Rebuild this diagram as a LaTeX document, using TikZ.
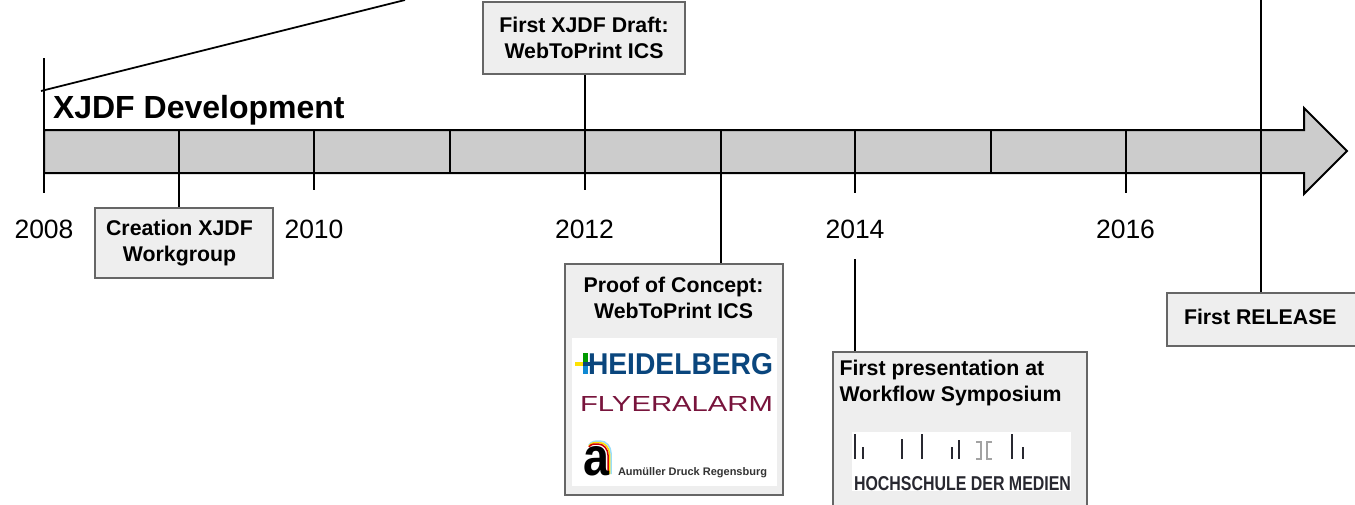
\documentclass[tikz,border=0pt]{standalone}
\usepackage{fontspec}
\usepackage{graphicx}
\setmainfont{Liberation Sans}
\definecolor{barfill}{RGB}{204, 204, 204}
\definecolor{boxfill}{RGB}{238, 238, 238}
\definecolor{boxedge}{RGB}{102, 102, 102}
\definecolor{hdblue}{RGB}{10, 70, 125}
\definecolor{flyerred}{RGB}{120, 20, 60}
\definecolor{hdmdark}{RGB}{40, 40, 48}
\usetikzlibrary{positioning, calc}

\begin{document}
\begin{tikzpicture}[
  x=1pt, y=-1pt,
  line width=2pt,
  box/.style={draw=boxedge, fill=boxfill, line width=2pt, inner sep=0pt, align=center,
    font=\fontsize{21.3}{26}\selectfont\bfseries},
  boxtext/.style={inner sep=0pt, font=\fontsize{21.3}{26}\selectfont\bfseries},
  year/.style={inner sep=0pt, font=\fontsize{26.5}{30}\selectfont},
  logobg/.style={fill=white, inner sep=0pt},
  hdmbar/.style={hdmdark, line width=2.6pt},
]
\useasboundingbox (0,0) rectangle (1355,504);
\clip (0,0) rectangle (1355,504);

% Time bar
\draw[fill=barfill, line join=miter] (44,130) -- (1304,130) -- (1304,108) -- (1347,151)
  -- (1304,194) -- (1304,173) -- (44,173) -- cycle;
\draw[line width=1.8pt] (41,91) -- (405,0);
\node[inner sep=0pt, anchor=base west, font=\fontsize{32}{36}\selectfont\bfseries] (title) at (52,118) {XJDF Development};

% Tick positions on the bar
\coordinate (t2008) at (44,58);
\coordinate (t2009) at (179,130);
\coordinate (t2010) at (314,130);
\coordinate (t2011) at (449.5,130);
\coordinate (t2012) at (584.5,173);
\coordinate (t2013) at (721,130);
\coordinate (t2014) at (855,130);
\coordinate (t2014low) at (855,259);
\coordinate (t2015) at (991,130);
\coordinate (t2016) at (1125.5,130);
\coordinate (t2017) at (1261,0);

% Years
\node[year] (y2008) at (44,229) {2008};
\node[year] (y2010) at (314,229) {2010};
\node[year] (y2012) at (584.5,229) {2012};
\node[year] (y2014) at (855,229) {2014};
\node[year] (y2016) at (1125.5,229) {2016};

% Milestones
\node[box, minimum width=178pt, minimum height=70pt] (creation) at (184,243) {};
\node[boxtext, align=center] (creationtext) at (179.5,243) {Creation XJDF\\Workgroup};
\node[box, minimum width=202pt, minimum height=72pt] (draft) at (584,38)
{First XJDF Draft:\\WebToPrint ICS};
\node[box, minimum width=218pt, minimum height=231pt] (proof) at (674,379.5) {};
\node[boxtext, align=center] (prooftext) at (673.5,298) {Proof of Concept:\\WebToPrint ICS};
\node[box, minimum width=254pt, minimum height=180pt] (talk) at (960,442) {};
\node[boxtext, align=left, anchor=north west] (talktext) at (838.5,359) {First presentation at\\Workflow Symposium};
\node[box, minimum width=220pt, minimum height=53pt] (release) at (1277,319.5) {};
\node[boxtext, anchor=west] (releasetext) at (1183,317) {First RELEASE};

% Connectors
\draw (t2008) -- (44,193);
\draw (t2009) -- (t2009 |- creation.north);
\draw (t2010) -- (314,190);
\draw (t2011) -- (449.5,173);
\draw (t2012 |- draft.south) -- (584.5,190);
\draw (t2013) -- (t2013 |- proof.north);
\draw (t2014) -- (855,193);
\draw (t2014low) -- (t2014low |- talk.north);
\draw (t2015) -- (991,173);
\draw (t2016) -- (1125.5,193);
\draw (t2017) -- (t2017 |- release.north);

% Logos in the proof box
\node[logobg, minimum width=205pt, minimum height=148pt] (prooflogos) at (674.5,412) {};
\node[inner sep=0pt, anchor=base west, text=hdblue] (heidelberg) at (587,374)
{\resizebox{185pt}{21pt}{\bfseries HEIDELBERG}};
\fill[yellow!85!orange] (575,362) rectangle (584,366);
\fill[green!60!black] (583,353) rectangle (588,363);
\fill[cyan!70!blue] (583,365) rectangle (588,374);
\fill[hdblue] (583,362) rectangle (592,366);
\node[inner sep=0pt, anchor=base west, text=flyerred] (flyeralarm) at (579,411)
{\resizebox{193pt}{15pt}{FLYERALARM}};
\draw[line width=1.5pt, cyan!40] (589,445) to[out=60, in=180] (600,441) to[out=0, in=90] (611,453) -- (611,474);
\draw[line width=1.5pt, yellow!80!orange] (589,446) to[out=60, in=180] (599,442.5) to[out=0, in=90] (609.5,454) -- (609.5,474);
\draw[line width=1.5pt, red!80!black] (589,447) to[out=60, in=180] (598,444) to[out=0, in=90] (608,455) -- (608,474);
\node[inner sep=0pt, anchor=base west] (aumark) at (582,475)
{\resizebox{26pt}{29pt}{\bfseries a}};
\node[inner sep=0pt, anchor=base west, text=black!80] (aumueller) at (617,475)
{\resizebox{149pt}{!}{\bfseries Aumüller Druck Regensburg}};

% Logo in the talk box
\node[logobg, minimum width=219pt, minimum height=59pt] (hdmlogo) at (961.5,461.5) {};
\draw[hdmbar] (855,434) -- (855,459);
\draw[hdmbar] (863,447) -- (863,459);
\draw[hdmbar] (902,439) -- (902,459);
\draw[hdmbar] (922,434) -- (922,459);
\draw[hdmbar] (952,447) -- (952,459);
\draw[hdmbar] (959,440) -- (959,459);
\draw[hdmbar] (1012,434) -- (1012,459);
\draw[hdmbar] (1023,447) -- (1023,459);
\draw[line width=2.2pt, barfill!80!black] (976,442) -- (981,442) -- (981,459) -- (976,459);
\draw[line width=2.2pt, barfill!80!black] (992,442) -- (987,442) -- (987,459) -- (992,459);
\node[inner sep=0pt, anchor=base west, text=hdmdark] (hdmname) at (853,490)
{\resizebox{217pt}{14pt}{\bfseries HOCHSCHULE DER MEDIEN}};
\end{tikzpicture}
\end{document}
